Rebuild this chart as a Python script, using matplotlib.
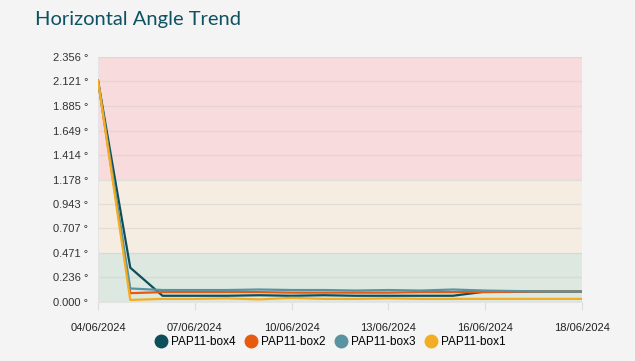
import numpy as np
import matplotlib.pyplot as plt
from matplotlib.lines import Line2D

# daily readings (category axis, 16 points)
dates = ["04/06/2024", "05/06/2024", "06/06/2024", "07/06/2024", "08/06/2024",
         "09/06/2024", "10/06/2024", "11/06/2024", "12/06/2024", "13/06/2024",
         "14/06/2024", "15/06/2024", "16/06/2024", "17/06/2024", "17/06/2024",
         "18/06/2024"]
tick_idx = [0, 3, 6, 9, 12, 15]

box4 = [2.13, 0.33, 0.06, 0.06, 0.06, 0.065, 0.06, 0.065, 0.06, 0.06, 0.06, 0.06, 0.10, 0.10, 0.10, 0.10]
box2 = [2.13, 0.085, 0.095, 0.095, 0.095, 0.095, 0.09, 0.09, 0.09, 0.09, 0.095, 0.095, 0.095, 0.10, 0.10, 0.10]
box3 = [2.13, 0.13, 0.115, 0.115, 0.115, 0.12, 0.115, 0.115, 0.11, 0.115, 0.11, 0.12, 0.11, 0.105, 0.10, 0.10]
box1 = [2.13, 0.02, 0.03, 0.03, 0.035, 0.025, 0.04, 0.03, 0.03, 0.035, 0.03, 0.03, 0.03, 0.03, 0.03, 0.03]

series = [("PAP11-box4", box4, "#0d4e5b"),
          ("PAP11-box2", box2, "#e85a0e"),
          ("PAP11-box3", box3, "#5893a1"),
          ("PAP11-box1", box1, "#f4ad22")]

yticks = [0.000, 0.236, 0.471, 0.707, 0.943, 1.178, 1.414, 1.649, 1.885, 2.121, 2.356]
bands = [(0.0, 0.471, "#dde8e0"), (0.471, 1.178, "#f5ede2"), (1.178, 2.356, "#f8dcdd")]

bg = "#f4f4f4"
fig = plt.figure(figsize=(6.35, 3.61), dpi=100, facecolor=bg)
ax = fig.add_axes([98 / 635, 1 - 302 / 361, 484 / 635, 245 / 361])
ax.set_facecolor(bg)

for lo, hi, col in bands:
    ax.axhspan(lo, hi, color=col, zorder=0, lw=0)

x = np.arange(len(dates))
for name, vals, col in series:
    ax.plot(x, vals, color=col, lw=1.6, zorder=3)

ax.set_xlim(0, len(dates) - 1)
ax.set_ylim(0, 2.356)
ax.set_yticks(yticks)
ax.set_yticklabels([f"{v:.3f} °" for v in yticks], fontsize=8, color="#333333",
                   family="Liberation Sans")
ax.set_xticks(tick_idx)
ax.set_xticklabels([dates[i] for i in tick_idx], fontsize=8, color="#222222",
                   family="Liberation Sans")
ax.tick_params(axis="y", length=0, pad=7)
ax.tick_params(axis="x", length=6, color="#dddddd", pad=9)
ax.grid(axis="y", color="#cccccc", alpha=0.45, lw=1, zorder=1)

for s in ["top", "right"]:
    ax.spines[s].set_visible(False)
ax.spines["left"].set_color("#e4e4e4")
ax.spines["bottom"].set_color("#e4e4e4")

fig.text(35 / 635, 1 - 19 / 361, "Horizontal Angle Trend", fontsize=14.5,
         color="#0f5262", family="Lato", va="center", ha="left")

handles = [Line2D([], [], marker="o", ls="", color=c, markersize=9) for _, _, c in series]
fig.legend(handles, [n for n, _, _ in series], loc="center", ncol=4,
           bbox_to_anchor=(330 / 635, 1 - 342 / 361), frameon=False,
           handlelength=1.0, handletextpad=0.35, columnspacing=0.8,
           prop={"family": "Liberation Sans", "size": 8.5})

fig.savefig("out.png", dpi=100, facecolor=bg)
